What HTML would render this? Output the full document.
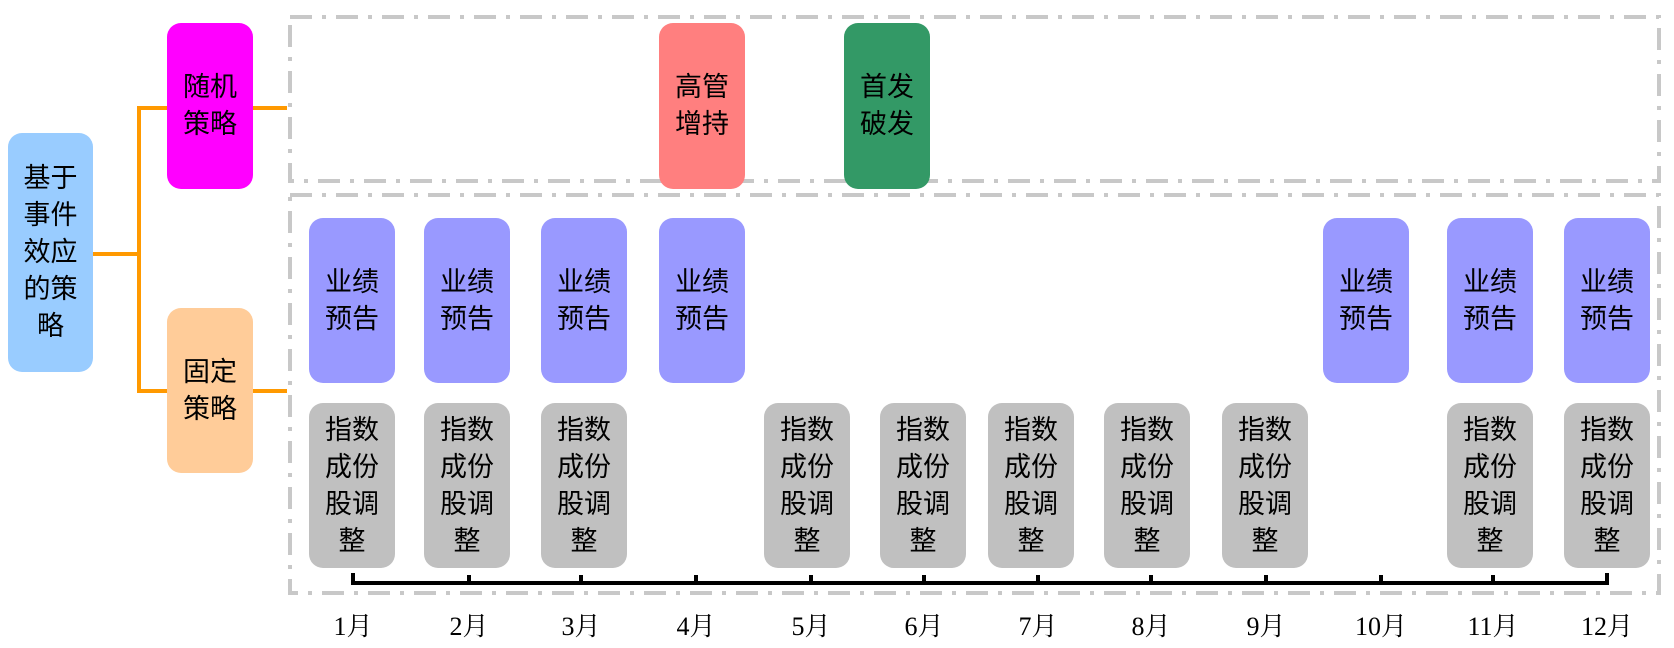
<!DOCTYPE html>
<html><head><meta charset="utf-8"><style>
body{margin:0;width:1674px;height:648px;background:#fff;position:relative;overflow:hidden;font-family:"Liberation Sans","Noto Sans CJK SC",sans-serif;}
.b{position:absolute;border-radius:14px;display:flex;align-items:center;justify-content:center;text-align:center;font-size:27px;line-height:37px;color:#000;}
.l{position:absolute;background:#ff9900;}
.t{position:absolute;background:#000;}
.m{position:absolute;top:606px;width:80px;margin-left:-40px;text-align:center;font-family:"Liberation Serif","Noto Serif CJK SC",serif;font-size:26px;}
svg{position:absolute;left:0;top:0;}
</style></head><body>
<svg width="1674" height="648"><g fill="none" stroke="#c8c8c8" stroke-width="4" stroke-dasharray="22 10 4 10">
<rect x="290" y="17" width="1369" height="164"/>
<rect x="290" y="195" width="1369" height="398"/></g></svg>

<div class="b" style="left:8px;top:133px;width:85px;height:239px;background:#99ccff;">基于<br>事件<br>效应<br>的策<br>略</div>
<div class="b" style="left:167px;top:23px;width:86px;height:166px;background:#ff00ff;">随机<br>策略</div>
<div class="b" style="left:167px;top:308px;width:86px;height:165px;background:#ffcc99;">固定<br>策略</div>

<div class="l" style="left:93px;top:252px;width:46px;height:4px;"></div>
<div class="l" style="left:137px;top:106px;width:4px;height:287px;"></div>
<div class="l" style="left:137px;top:106px;width:30px;height:4px;"></div>
<div class="l" style="left:137px;top:389px;width:30px;height:4px;"></div>
<div class="l" style="left:253px;top:106px;width:34px;height:4px;"></div>
<div class="l" style="left:253px;top:389px;width:34px;height:4px;"></div>

<div class="b" style="left:659px;top:23px;width:86px;height:166px;background:#ff7f7f;">高管<br>增持</div>
<div class="b" style="left:844px;top:23px;width:86px;height:166px;background:#339966;">首发<br>破发</div>

<div class="b" style="left:309px;top:218px;width:86px;height:165px;background:#9999ff;">业绩<br>预告</div>
<div class="b" style="left:424px;top:218px;width:86px;height:165px;background:#9999ff;">业绩<br>预告</div>
<div class="b" style="left:541px;top:218px;width:86px;height:165px;background:#9999ff;">业绩<br>预告</div>
<div class="b" style="left:659px;top:218px;width:86px;height:165px;background:#9999ff;">业绩<br>预告</div>
<div class="b" style="left:1323px;top:218px;width:86px;height:165px;background:#9999ff;">业绩<br>预告</div>
<div class="b" style="left:1447px;top:218px;width:86px;height:165px;background:#9999ff;">业绩<br>预告</div>
<div class="b" style="left:1564px;top:218px;width:86px;height:165px;background:#9999ff;">业绩<br>预告</div>

<div class="b" style="left:309px;top:403px;width:86px;height:165px;background:#c0c0c0;">指数<br>成份<br>股调<br>整</div>
<div class="b" style="left:424px;top:403px;width:86px;height:165px;background:#c0c0c0;">指数<br>成份<br>股调<br>整</div>
<div class="b" style="left:541px;top:403px;width:86px;height:165px;background:#c0c0c0;">指数<br>成份<br>股调<br>整</div>
<div class="b" style="left:764px;top:403px;width:86px;height:165px;background:#c0c0c0;">指数<br>成份<br>股调<br>整</div>
<div class="b" style="left:880px;top:403px;width:86px;height:165px;background:#c0c0c0;">指数<br>成份<br>股调<br>整</div>
<div class="b" style="left:988px;top:403px;width:86px;height:165px;background:#c0c0c0;">指数<br>成份<br>股调<br>整</div>
<div class="b" style="left:1104px;top:403px;width:86px;height:165px;background:#c0c0c0;">指数<br>成份<br>股调<br>整</div>
<div class="b" style="left:1222px;top:403px;width:86px;height:165px;background:#c0c0c0;">指数<br>成份<br>股调<br>整</div>
<div class="b" style="left:1447px;top:403px;width:86px;height:165px;background:#c0c0c0;">指数<br>成份<br>股调<br>整</div>
<div class="b" style="left:1564px;top:403px;width:86px;height:165px;background:#c0c0c0;">指数<br>成份<br>股调<br>整</div>

<div class="t" style="left:351px;top:581px;width:1258px;height:4px;"></div>
<div class="t" style="left:351px;top:573px;width:4px;height:10px;"></div>
<div class="t" style="left:467px;top:575px;width:4px;height:8px;"></div>
<div class="t" style="left:579px;top:575px;width:4px;height:8px;"></div>
<div class="t" style="left:694px;top:575px;width:4px;height:8px;"></div>
<div class="t" style="left:809px;top:575px;width:4px;height:8px;"></div>
<div class="t" style="left:922px;top:575px;width:4px;height:8px;"></div>
<div class="t" style="left:1036px;top:575px;width:4px;height:8px;"></div>
<div class="t" style="left:1149px;top:575px;width:4px;height:8px;"></div>
<div class="t" style="left:1264px;top:575px;width:4px;height:8px;"></div>
<div class="t" style="left:1379px;top:575px;width:4px;height:8px;"></div>
<div class="t" style="left:1491px;top:575px;width:4px;height:8px;"></div>
<div class="t" style="left:1605px;top:573px;width:4px;height:10px;"></div>

<div class="m" style="left:353px;">1月</div>
<div class="m" style="left:469px;">2月</div>
<div class="m" style="left:581px;">3月</div>
<div class="m" style="left:696px;">4月</div>
<div class="m" style="left:811px;">5月</div>
<div class="m" style="left:924px;">6月</div>
<div class="m" style="left:1038px;">7月</div>
<div class="m" style="left:1151px;">8月</div>
<div class="m" style="left:1266px;">9月</div>
<div class="m" style="left:1381px;">10月</div>
<div class="m" style="left:1493px;">11月</div>
<div class="m" style="left:1607px;">12月</div>
</body></html>
